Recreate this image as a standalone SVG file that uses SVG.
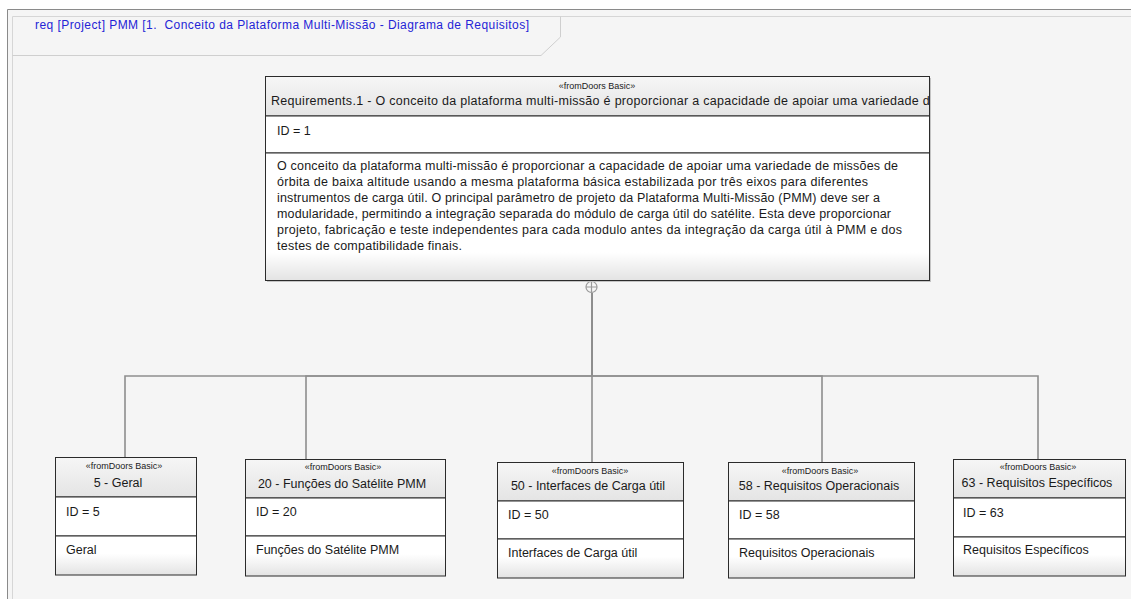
<svg xmlns="http://www.w3.org/2000/svg" width="1131" height="599" viewBox="0 0 1131 599">
<defs>
<linearGradient id="hdr" x1="0" y1="0" x2="0" y2="1"><stop offset="0" stop-color="#f6f6f6"/><stop offset="1" stop-color="#e4e4e4"/></linearGradient>
<linearGradient id="bodyMain" x1="0" y1="0" x2="0" y2="1"><stop offset="0" stop-color="#ffffff"/><stop offset="0.78" stop-color="#ffffff"/><stop offset="1" stop-color="#e3e3e3"/></linearGradient>
<linearGradient id="bodySm" x1="0" y1="0" x2="0" y2="1"><stop offset="0" stop-color="#ffffff"/><stop offset="0.45" stop-color="#ffffff"/><stop offset="1" stop-color="#e3e3e3"/></linearGradient>
<clipPath id="clipMain"><rect x="266" y="77" width="663" height="39"/></clipPath>
<style>
text{font-family:"Liberation Sans",Arial,sans-serif;fill:#1a1a1a;}
.t{font-size:12.5px;}
.st{font-size:9px;text-anchor:middle;}
.ti{font-size:12.5px;text-anchor:middle;}
.box{stroke:#2b2b2b;stroke-width:1;}
.conn{fill:none;stroke:#8e8e8e;stroke-width:1.6;}
</style>
</defs>
<rect width="1131" height="599" fill="#ffffff"/>
<g id="frame">
<rect x="7" y="9.5" width="1124" height="590" fill="#f5f5f5"/>
<path d="M7.5 599 V9.5 H1131" fill="none" stroke="#8a8a8a" stroke-width="1"/>
<path d="M12.5 599 V16.5 H1131" fill="none" stroke="#d6d6d6" stroke-width="1"/>
<path d="M12.5 55.5 H541 L560.5 37 V16.5" fill="none" stroke="#cfcfcf" stroke-width="1"/>
<text x="35" y="29" style="font-size:12px;fill:#2424d6;" textLength="494">req [Project] PMM [1.&#160; Conceito da Plataforma Multi-Missão - Diagrama de Requisitos]</text>
</g>
<g id="connectors">
<path class="conn" d="M592 293 V376 H125 V457"/>
<path class="conn" d="M592 293 V376 H306 V459"/>
<path class="conn" d="M592 293 V462"/>
<path class="conn" d="M592 293 V376 H822 V462"/>
<path class="conn" d="M592 293 V376 H1038 V459"/>
<circle cx="591.5" cy="287" r="5.5" fill="#f5f5f5" stroke="#9a9a9a" stroke-width="1.2"/>
<path d="M591.5 281.5 V292.5 M586 287 H597" stroke="#9a9a9a" stroke-width="1.2"/>
</g>
<g id="req1">
<rect x="267" y="78" width="664" height="204" fill="#c4c4c4"/>
<rect x="265.5" y="76.5" width="664" height="39.5" fill="url(#hdr)" class="box"/>
<rect x="265.5" y="116" width="664" height="37" fill="#ffffff" class="box"/>
<rect x="265.5" y="153" width="664" height="127.5" fill="url(#bodyMain)" class="box"/>
<text class="st" x="597" y="89">«fromDoors Basic»</text>
<g clip-path="url(#clipMain)"><text class="t" x="271" y="105" textLength="666">Requirements.1 - O conceito da plataforma multi-missão é proporcionar a capacidade de apoiar uma variedade de</text></g>
<text class="t" x="277" y="135">ID = 1</text>
<text class="t" x="277" y="170" textLength="621">O conceito da plataforma multi-missão é proporcionar a capacidade de apoiar uma variedade de missões de</text>
<text class="t" x="277" y="186" textLength="591">órbita de baixa altitude usando a mesma plataforma básica estabilizada por três eixos para diferentes</text>
<text class="t" x="277" y="202" textLength="603">instrumentos de carga útil. O principal parâmetro de projeto da Plataforma Multi-Missão (PMM) deve ser a</text>
<text class="t" x="277" y="218" textLength="614">modularidade, permitindo a integração separada do módulo de carga útil do satélite. Esta deve proporcionar</text>
<text class="t" x="277" y="234" textLength="625">projeto, fabricação e teste independentes para cada modulo antes da integração da carga útil à PMM e dos</text>
<text class="t" x="277" y="250" textLength="185">testes de compatibilidade finais.</text>
</g>
<g id="req5">
<rect x="55.5" y="457.5" width="141" height="39.5" fill="url(#hdr)" class="box"/>
<rect x="55.5" y="497" width="141" height="39" fill="#ffffff" class="box"/>
<rect x="55.5" y="536" width="141" height="39" fill="url(#bodySm)" class="box"/>
<text class="st" x="124" y="469">«fromDoors Basic»</text>
<text class="ti" x="118" y="487">5 - Geral</text>
<text class="t" x="66" y="516">ID = 5</text>
<text class="t" x="66" y="554">Geral</text>
</g>
<g id="req20">
<rect x="245.5" y="459.5" width="200" height="38.5" fill="url(#hdr)" class="box"/>
<rect x="245.5" y="498" width="200" height="38" fill="#ffffff" class="box"/>
<rect x="245.5" y="536" width="200" height="40" fill="url(#bodySm)" class="box"/>
<text class="st" x="343" y="470">«fromDoors Basic»</text>
<text class="ti" x="342" y="488">20 - Funções do Satélite PMM</text>
<text class="t" x="256" y="516">ID = 20</text>
<text class="t" x="256" y="554">Funções do Satélite PMM</text>
</g>
<g id="req50">
<rect x="497.5" y="462.5" width="186" height="38.5" fill="url(#hdr)" class="box"/>
<rect x="497.5" y="501" width="186" height="38" fill="#ffffff" class="box"/>
<rect x="497.5" y="539" width="186" height="39" fill="url(#bodySm)" class="box"/>
<text class="st" x="590" y="474">«fromDoors Basic»</text>
<text class="ti" x="588" y="490">50 - Interfaces de Carga útil</text>
<text class="t" x="508" y="519">ID = 50</text>
<text class="t" x="508" y="557">Interfaces de Carga útil</text>
</g>
<g id="req58">
<rect x="728.5" y="462.5" width="186" height="38.5" fill="url(#hdr)" class="box"/>
<rect x="728.5" y="501" width="186" height="38" fill="#ffffff" class="box"/>
<rect x="728.5" y="539" width="186" height="39" fill="url(#bodySm)" class="box"/>
<text class="st" x="820" y="474">«fromDoors Basic»</text>
<text class="ti" x="819" y="490">58 - Requisitos Operacionais</text>
<text class="t" x="739" y="519">ID = 58</text>
<text class="t" x="739" y="557">Requisitos Operacionais</text>
</g>
<g id="req63">
<rect x="953.5" y="459.5" width="172" height="38.5" fill="url(#hdr)" class="box"/>
<rect x="953.5" y="498" width="172" height="39" fill="#ffffff" class="box"/>
<rect x="953.5" y="537" width="172" height="39" fill="url(#bodySm)" class="box"/>
<text class="st" x="1038" y="470">«fromDoors Basic»</text>
<text class="ti" x="1037" y="487">63 - Requisitos Específicos</text>
<text class="t" x="963" y="517">ID = 63</text>
<text class="t" x="963" y="554">Requisitos Específicos</text>
</g>
</svg>
